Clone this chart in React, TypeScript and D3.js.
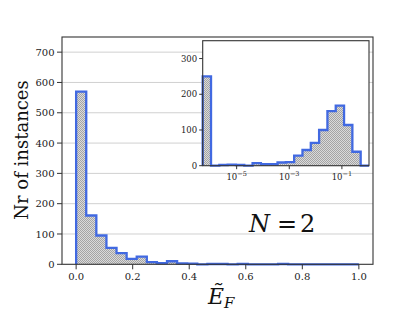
import React from 'react';
import * as d3 from 'd3';

// main histogram: 28 equal bins over [0, 1]
const mainCounts = [570, 161, 95, 54, 37, 18, 25, 7, 4, 10, 3, 2, 0, 1, 1, 0, 1, 0, 0, 0, 1, 0, 0, 0, 0, 0, 0, 0];
const mainXTicks = [0, 0.2, 0.4, 0.6, 0.8, 1.0];
const mainYTicks = [0, 100, 200, 300, 400, 500, 600, 700];

// inset: 20 log-spaced bins
const insetCounts = [250, 0, 2, 3, 2, 0, 7, 4, 4, 9, 10, 28, 44, 64, 100, 153, 168, 114, 39, 0];
const insetXTicks = [-5, -3, -1];
const insetYTicks = [0, 100, 200, 300];

const W = 415;
const H = 311;
const main = { left: 62, right: 373, top: 37, bottom: 264.3 };
const inset = { left: 202.7, right: 369, top: 40.7, bottom: 165.7 };

const FONT = 'DejaVu Serif';
const BLUE = '#4169e1';
const SPINE = '#333';

function stepPoints(edges: number[], counts: number[]): [number, number][] {
    const pts: [number, number][] = [[edges[0], 0]];
    counts.forEach((c, i) => {
        pts.push([edges[i], c]);
        pts.push([edges[i + 1], c]);
    });
    pts.push([edges[edges.length - 1], 0]);
    return pts;
}

const App = () => {
    // main scales
    const x = d3.scaleLinear().domain([-0.05, 1.05]).range([main.left, main.right]);
    const y = d3.scaleLinear().domain([0, 750]).range([main.bottom, main.top]);
    const mainEdges = d3.range(mainCounts.length + 1).map((i) => i / mainCounts.length);
    const mainLine = d3.line<[number, number]>()
        .x((d) => x(d[0]))
        .y((d) => y(d[1]));
    const mainPts = stepPoints(mainEdges, mainCounts);

    // inset scales
    const lo = -6.29;
    const hi = 0.03;
    const xi = d3.scaleLog().domain([10 ** lo, 10 ** hi]).range([inset.left, inset.right]);
    const yi = d3.scaleLinear().domain([0, 350]).range([inset.bottom, inset.top]);
    const insetEdges = d3.range(insetCounts.length + 1).map((i) => 10 ** (lo + ((hi - lo) * i) / insetCounts.length));
    const insetLine = d3.line<[number, number]>()
        .x((d) => xi(d[0]))
        .y((d) => yi(d[1]));
    const insetPts = stepPoints(insetEdges, insetCounts);

    const f = { fontFamily: FONT };

    return (
        <svg width={W} height={H} style={{ position: 'absolute', left: 0, top: 0, background: '#fff' }}>
            <defs>
                <pattern id="hatch" width="2" height="2" patternUnits="userSpaceOnUse">
                    <rect width="2" height="2" fill="#dadada" />
                    <rect width="1" height="1" fill="#a4a4a4" />
                    <rect x="1" y="1" width="1" height="1" fill="#a4a4a4" />
                </pattern>
            </defs>

            {/* main axes */}
            <rect x={main.left} y={main.top} width={main.right - main.left} height={main.bottom - main.top} fill="#fff" />
            {mainYTicks.filter((t) => t > 0).map((t) => (
                <line key={t} x1={main.left} x2={main.right} y1={y(t)} y2={y(t)} stroke="#d0d0d0" strokeWidth={1} />
            ))}
            <path d={mainLine(mainPts) + 'Z'} fill="url(#hatch)" stroke="none" />
            <path d={mainLine(mainPts) ?? ''} fill="none" stroke={BLUE} strokeWidth={2.3} />
            <rect x={main.left} y={main.top} width={main.right - main.left} height={main.bottom - main.top} fill="none" stroke={SPINE} strokeWidth={1.1} />
            {mainYTicks.map((t) => (
                <g key={t} transform={`translate(${main.left},${y(t)})`}>
                    <line x1={-5} x2={0} stroke={SPINE} strokeWidth={1} />
                    <text x={-7.5} dy="0.36em" textAnchor="end" fontSize={10} fill="#222" style={f}>{t}</text>
                </g>
            ))}
            {mainXTicks.map((t) => (
                <g key={t} transform={`translate(${x(t)},${main.bottom})`}>
                    <line y1={0} y2={5} stroke={SPINE} strokeWidth={1} />
                    <text y={16} textAnchor="middle" fontSize={10} fill="#222" style={f}>{t.toFixed(1)}</text>
                </g>
            ))}

            {/* axis labels */}
            <text transform={`translate(28,150) rotate(-90)`} textAnchor="middle" fontSize={18} fill="#111" style={f}>Nr of instances</text>
            <text x={208} y={304} fontSize={22} fill="#111" fontStyle="italic" style={f}>
                Ẽ<tspan fontSize={15} dy={4}>F</tspan>
            </text>
            <text y={232} fontSize={24} fill="#111" style={f}>
                <tspan x={249} fontStyle="italic">N</tspan>
                <tspan x={277}>=</tspan>
                <tspan x={300}>2</tspan>
            </text>

            {/* inset */}
            <rect x={inset.left} y={inset.top} width={inset.right - inset.left} height={inset.bottom - inset.top} fill="#fff" />
            <path d={insetLine(insetPts) + 'Z'} fill="url(#hatch)" stroke="none" />
            <path d={insetLine(insetPts) ?? ''} fill="none" stroke={BLUE} strokeWidth={2.3} />
            <rect x={inset.left} y={inset.top} width={inset.right - inset.left} height={inset.bottom - inset.top} fill="none" stroke={SPINE} strokeWidth={1.1} />
            {insetYTicks.map((t) => (
                <g key={t} transform={`translate(${inset.left},${yi(t)})`}>
                    <line x1={-3.5} x2={0} stroke={SPINE} strokeWidth={1} />
                    <text x={-5.5} dy="0.36em" textAnchor="end" fontSize={8.5} fill="#222" style={f}>{t}</text>
                </g>
            ))}
            {insetXTicks.map((t) => (
                <g key={t} transform={`translate(${xi(10 ** t)},${inset.bottom})`}>
                    <line y1={0} y2={3.5} stroke={SPINE} strokeWidth={1} />
                    <text y={14} textAnchor="middle" fontSize={8.5} fill="#222" style={f}>
                        10<tspan fontSize={6.5} dy={-4}>{'\u2212' + Math.abs(t)}</tspan>
                    </text>
                </g>
            ))}
        </svg>
    );
};

export default App;
